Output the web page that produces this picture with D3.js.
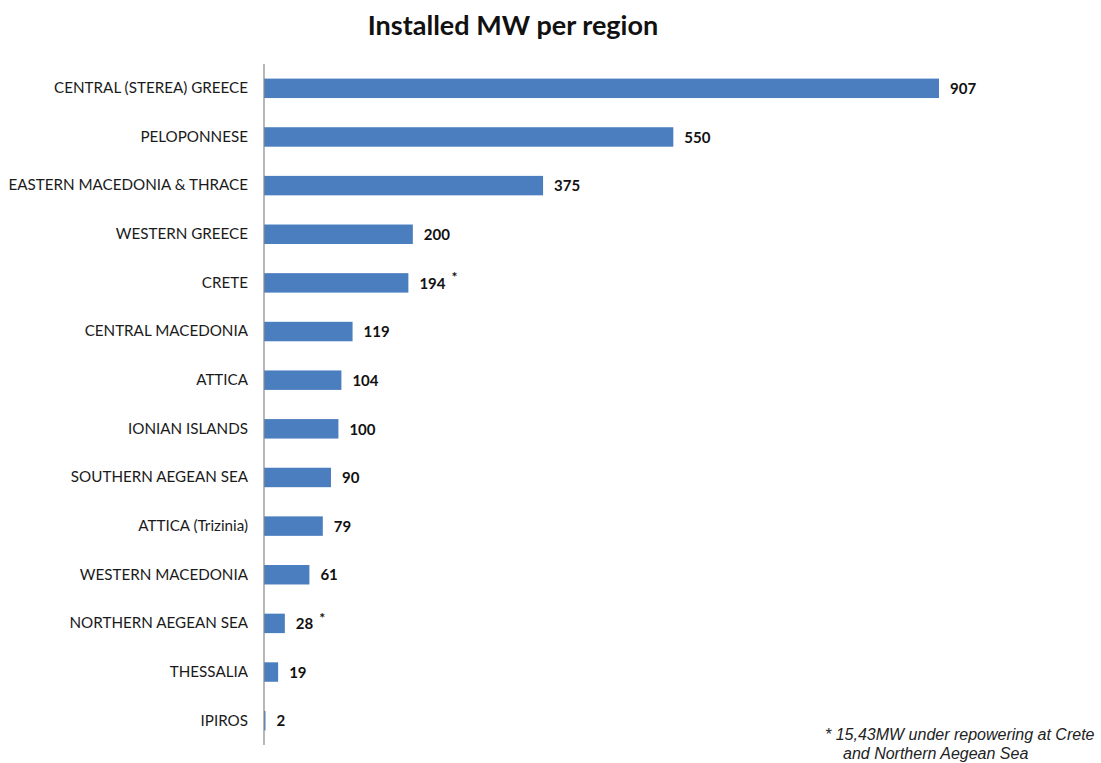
<!DOCTYPE html>
<html>
<head>
<meta charset="utf-8">
<script src="https://cdn.jsdelivr.net/npm/d3@7/dist/d3.min.js"></script>
<style>
  html, body { margin: 0; padding: 0; background: #fff; }
  svg { display: block; }
</style>
</head>
<body>
<svg id="chart" width="1101" height="763"></svg>
<script>
// Installed wind capacity (MW) by region
const regions = [
  "CENTRAL (STEREA) GREECE", "PELOPONNESE", "EASTERN MACEDONIA & THRACE",
  "WESTERN GREECE", "CRETE", "CENTRAL MACEDONIA", "ATTICA", "IONIAN ISLANDS",
  "SOUTHERN AEGEAN SEA", "ATTICA (Trizinia)", "WESTERN MACEDONIA",
  "NORTHERN AEGEAN SEA", "THESSALIA", "IPIROS"
];
const installedMW = [907, 550, 375, 200, 194, 119, 104, 100, 90, 79, 61, 28, 19, 2];
const footnoteFlags = [false, false, false, false, true, false, false, false, false, false, false, true, false, false];
const footnoteLines = ["* 15,43MW under repowering at Crete", "and Northern Aegean Sea"];

const svg = d3.select("#chart");
const axisX = 264, plotTop = 64, plotBottom = 745;

const x = d3.scaleLinear().domain([0, 907]).range([axisX, 939]);
const y = d3.scaleBand().domain(regions).range([plotTop, plotBottom]).paddingInner(0.6).paddingOuter(0.3);

const data = regions.map((r, i) => ({ region: r, value: installedMW[i], star: footnoteFlags[i] }));

// Title
svg.append("text")
  .attr("x", 513).attr("y", 35)
  .attr("text-anchor", "middle")
  .attr("font-family", "Lato, 'Open Sans', sans-serif")
  .attr("font-weight", "bold")
  .attr("font-size", 27)
  .attr("fill", "#111")
  .text("Installed MW per region");

// Bars
svg.append("g").selectAll("rect").data(data).join("rect")
  .attr("x", x(0))
  .attr("y", d => y(d.region))
  .attr("width", d => x(d.value) - x(0))
  .attr("height", y.bandwidth())
  .attr("fill", "#4a7ebf");

// Category axis (line only, no ticks)
const yAxis = svg.append("g")
  .attr("transform", `translate(${axisX},0)`)
  .call(d3.axisLeft(y).tickSize(0).tickPadding(16));
yAxis.select(".domain").remove();
yAxis.selectAll("text")
  .attr("font-family", "Lato, 'Open Sans', sans-serif")
  .attr("font-size", 15.2)
  .attr("fill", "#1a1a1a");
svg.append("line")
  .attr("x1", axisX).attr("x2", axisX)
  .attr("y1", plotTop).attr("y2", plotBottom)
  .attr("stroke", "#888").attr("stroke-width", 1.2);

// Value labels
const labels = svg.append("g").selectAll("text").data(data).join("text")
  .attr("x", d => x(d.value) + 11)
  .attr("y", d => y(d.region) + y.bandwidth() / 2)
  .attr("dy", "0.38em")
  .attr("font-family", "Lato, 'Open Sans', sans-serif")
  .attr("font-weight", "bold")
  .attr("font-size", 15)
  .attr("fill", "#111")
  .text(d => d.value);
labels.filter(d => d.star).append("tspan")
  .attr("dx", 6).attr("dy", "-0.45em").attr("font-size", 14)
  .text("*");

// Footnote
svg.append("g").selectAll("text").data(footnoteLines).join("text")
  .attr("x", (d, i) => i === 0 ? 825 : 843)
  .attr("y", (d, i) => 740 + i * 19)
  .attr("font-family", "'Liberation Sans', Arial, sans-serif")
  .attr("font-style", "italic")
  .attr("font-size", 16)
  .attr("fill", "#222")
  .text(d => d);
</script>
</body>
</html>
